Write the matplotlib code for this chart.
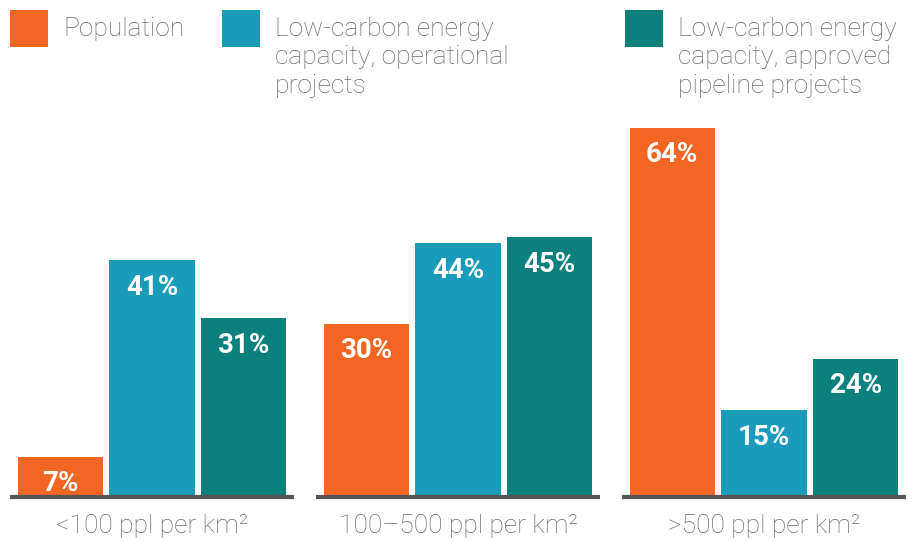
import matplotlib.pyplot as plt
import numpy as np

categories = ["<100 ppl per km\u00b2", "100\u2013500 ppl per km\u00b2", ">500 ppl per km\u00b2"]
series_names = [
    "Population",
    "Low-carbon energy\ncapacity, operational\nprojects",
    "Low-carbon energy\ncapacity, approved\npipeline projects",
]
population = [7, 30, 64]
operational = [41, 44, 15]
pipeline = [31, 45, 24]

colors = ["#F26522", "#1A9BBA", "#0B807D"]
text_grey = "#6b6b6b"

plt.rcParams["font.family"] = ["Roboto", "DejaVu Sans"]

fig = plt.figure(figsize=(9.2, 5.41), dpi=100)
ax = fig.add_axes([0, 44 / 541, 1, 497 / 541])
ax.set_xlim(-152 / 306, 768 / 306)
ax.set_ylim(0, 497 / 5.77)
ax.axis("off")

x = np.arange(len(categories))
step = 0.3
width = 0.278
label_drop = 27 / 5.77

for i, (vals, color) in enumerate(zip([population, operational, pipeline], colors)):
    pos = x + (i - 1) * step
    ax.bar(pos, vals, width=width, color=color, linewidth=0)
    for px, v in zip(pos, vals):
        ax.text(px, v - label_drop, f"{v}%", ha="center", va="center",
                color="white", fontsize=20, fontweight="bold")

# baseline segment under each group
for xi in x:
    ax.plot([xi - 0.464, xi + 0.464], [0, 0], color="#555555", lw=3,
            solid_capstyle="butt", clip_on=False)

for xi, cat in zip(x, categories):
    fig.text((152 + 306 * xi) / 920, 1 - 526 / 541, cat, ha="center", va="center",
             color=text_grey, fontsize=19, fontweight="light")

# legend built by hand across the top
legend_x = [10, 222, 625]
for lx, name, color in zip(legend_x, series_names, colors):
    fig.patches.append(plt.Rectangle((lx / 920, 1 - 47 / 541), 38 / 920, 37 / 541,
                                     transform=fig.transFigure, color=color, lw=0))
    fig.text((lx + 53) / 920, 1 - 17 / 541, name, ha="left", va="top",
             color=text_grey, fontsize=19, fontweight="light", linespacing=1.23)

fig.savefig("out.png", dpi=100)
